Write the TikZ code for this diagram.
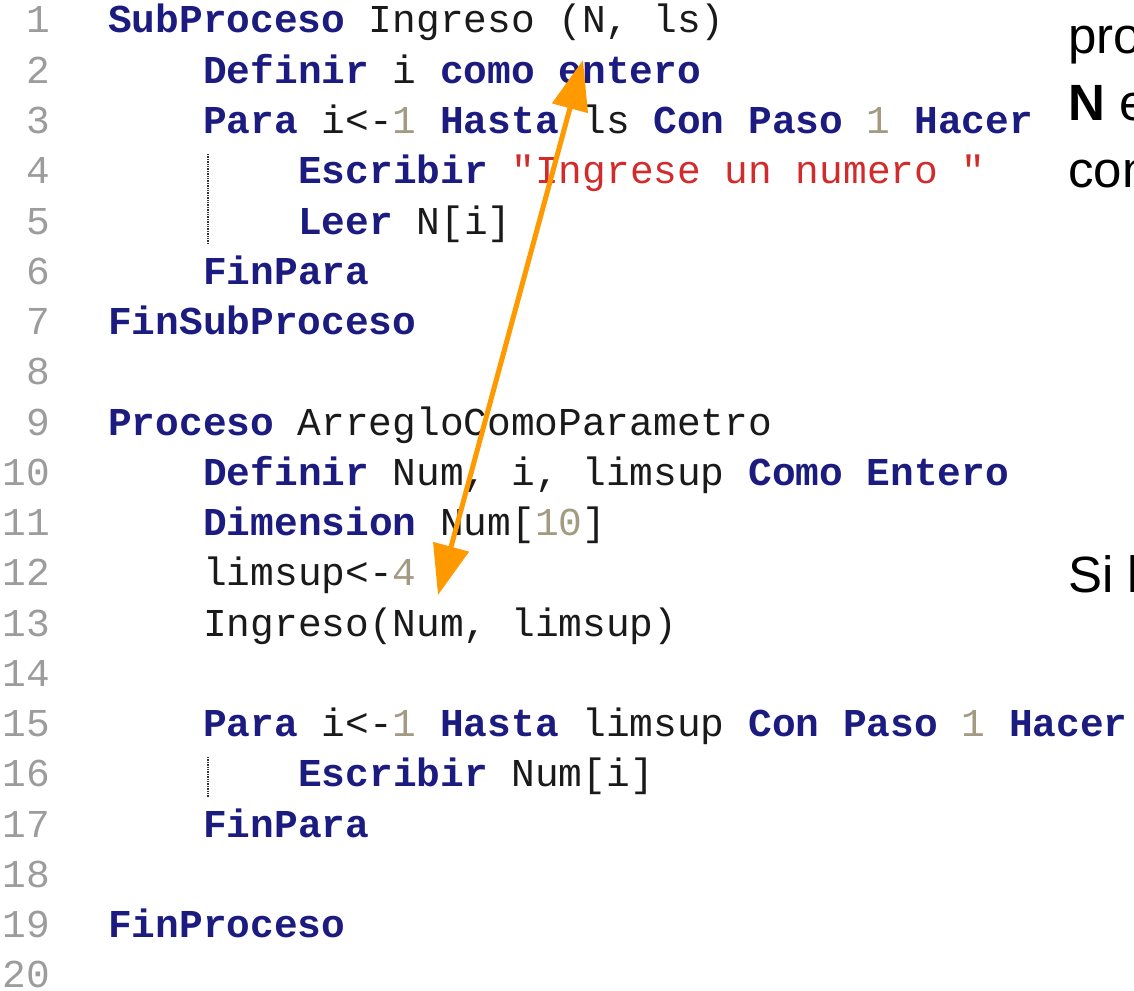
\documentclass[tikz,border=0pt]{standalone}
\usepackage{fontspec}
\setmainfont{Liberation Sans}
\setsansfont{Liberation Sans}
\setmonofont{Liberation Mono}
\usetikzlibrary{arrows.meta}
\definecolor{psblue}{HTML}{1C1C80}
\definecolor{psink}{HTML}{1A1A1A}
\definecolor{psnum}{HTML}{A39A82}
\definecolor{psstr}{HTML}{D22B2B}
\definecolor{psgrey}{HTML}{9C9C9C}
\definecolor{psorange}{HTML}{FF9900}
\newcommand{\pkw}[1]{\textcolor{psblue}{\bfseries #1}}
\newcommand{\pnum}[1]{\textcolor{psnum}{#1}}
\newcommand{\pstr}[1]{\textcolor{psstr}{#1}}
\newcommand{\codefont}{\fontsize{39.5}{48}\selectfont\ttfamily\frenchspacing}
\newcommand{\notefont}{\fontsize{51}{60}\selectfont\sffamily}

\begin{document}
\begin{tikzpicture}[x=1pt, y=-1pt,
      code/.style={anchor=base west, inner sep=0pt, text=psink, font=\codefont},
      lnum/.style={anchor=base east, inner sep=0pt, text=psgrey, font=\codefont},
      note/.style={anchor=base west, inner sep=0pt, text=black, font=\notefont},
      guide/.style={densely dotted, line width=1.4pt, black!80},
      link/.style={{Triangle[length=50pt,width=36pt]}-{Triangle[length=50pt,width=36pt]},
                   line width=5pt, draw=psorange}]
      \fill[white] (0,0) rectangle (1134,990);
      \useasboundingbox (0,0) rectangle (1134,990);

      % line numbers
      \foreach \n in {1,...,20}
        \node[lnum] (ln\n) at (50, {33+(\n-1)*50.26}) {\n};

      % subproceso
      \node[code] (c1) at (108,33) {\pkw{SubProceso} Ingreso (N, ls)};
      \node[code] (c2) at (203,83.3) {\pkw{Definir} i \pkw{como entero}};
      \node[code] (c3) at (203,133.5) {\pkw{Para} i<-\pnum{1} \pkw{Hasta} ls \pkw{Con Paso} \pnum{1} \pkw{Hacer}};
      \node[code] (c4) at (298,183.8) {\pkw{Escribir} \pstr{"Ingrese un numero "}};
      \node[code] (c5) at (298,234) {\pkw{Leer} N[i]};
      \node[code] (c6) at (203,284.3) {\pkw{FinPara}};
      \node[code] (c7) at (108,334.6) {\pkw{FinSubProceso}};

      % proceso principal
      \node[code] (c9) at (108,435.1) {\pkw{Proceso} ArregloComoParametro};
      \node[code] (c10) at (203,485.3) {\pkw{Definir} Num, i, limsup \pkw{Como Entero}};
      \node[code] (c11) at (203,535.6) {\pkw{Dimension} Num[\pnum{10}]};
      \node[code] (c12) at (203,585.9) {limsup<-\pnum{4}};
      \node[code] (c13) at (203,636.1) {Ingreso(Num, limsup)};
      \node[code] (c15) at (203,736.6) {\pkw{Para} i<-\pnum{1} \pkw{Hasta} limsup \pkw{Con Paso} \pnum{1} \pkw{Hacer}};
      \node[code] (c16) at (298,786.9) {\pkw{Escribir} Num[i]};
      \node[code] (c17) at (203,837.2) {\pkw{FinPara}};
      \node[code] (c19) at (108,937.7) {\pkw{FinProceso}};

      % indent guides
      \draw[guide] (208,154) -- (208,244);
      \draw[guide] (208,757) -- (208,797);

      % text on the right, cut by the edge
      \node[note] (t1) at (1068,54) {pro};
      \node[note] (t2) at (1068,120.5) {\textbf{N} e};
      \node[note] (t3) at (1068,187) {con};
      \node[note] (t4) at (1068,592) {Si l};

      \coordinate (parN) at (583,60);
      \coordinate (argNum) at (438,595);
      \draw[link] (parN) -- (argNum);
\end{tikzpicture}
\end{document}
